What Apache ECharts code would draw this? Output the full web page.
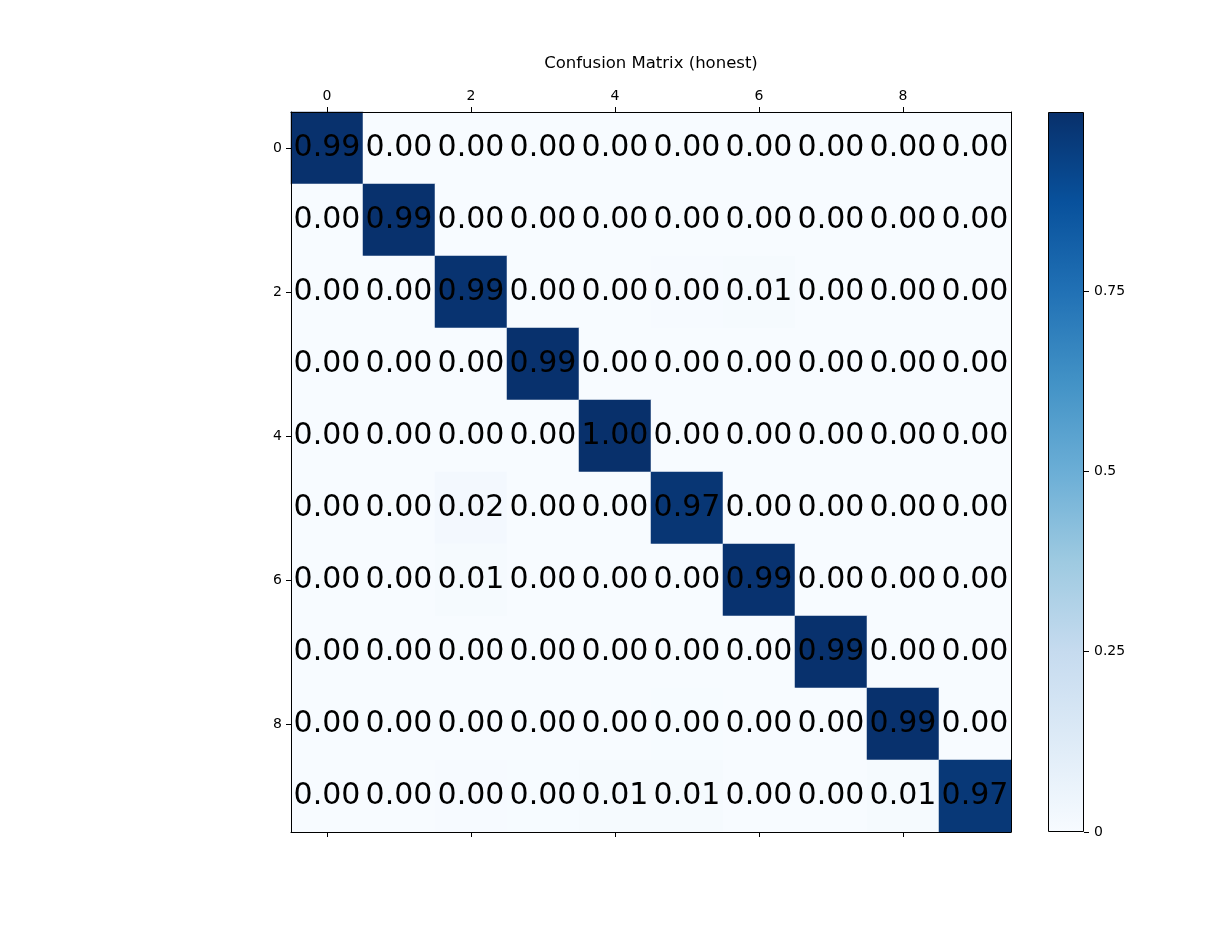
<!DOCTYPE html>
<html>
<head>
<meta charset="utf-8">
<script src="https://cdn.jsdelivr.net/npm/echarts@6/dist/echarts.min.js"></script>
<style>
  html, body { margin: 0; padding: 0; background: #fff; }
  #chart { width: 1213px; height: 935px; }
</style>
</head>
<body>
<div id="chart"></div>
<script>
// class labels (0..9)
const classes = ['0', '1', '2', '3', '4', '5', '6', '7', '8', '9'];

// confusion matrix rows (true class), columns (predicted class)
const row0 = [0.993, 0.000, 0.000, 0.000, 0.000, 0.000, 0.000, 0.000, 0.000, 0.000];
const row1 = [0.000, 0.993, 0.000, 0.000, 0.000, 0.000, 0.000, 0.000, 0.000, 0.000];
const row2 = [0.000, 0.000, 0.986, 0.000, 0.000, 0.004, 0.010, 0.000, 0.000, 0.000];
const row3 = [0.000, 0.000, 0.000, 0.993, 0.000, 0.000, 0.000, 0.000, 0.000, 0.000];
const row4 = [0.000, 0.000, 0.000, 0.000, 0.998, 0.000, 0.000, 0.000, 0.000, 0.000];
const row5 = [0.000, 0.000, 0.020, 0.000, 0.000, 0.974, 0.000, 0.000, 0.000, 0.000];
const row6 = [0.000, 0.000, 0.010, 0.000, 0.000, 0.000, 0.989, 0.000, 0.000, 0.000];
const row7 = [0.000, 0.000, 0.000, 0.000, 0.000, 0.000, 0.000, 0.993, 0.000, 0.000];
const row8 = [0.000, 0.000, 0.000, 0.000, 0.000, 0.003, 0.000, 0.000, 0.993, 0.000];
const row9 = [0.000, 0.000, 0.004, 0.003, 0.010, 0.008, 0.000, 0.000, 0.010, 0.968];
const matrix = [row0, row1, row2, row3, row4, row5, row6, row7, row8, row9];

// colorbar ticks
const cbTicks = [0, 0.25, 0.5, 0.75];

// matplotlib "Blues"
const blues = ['#f7fbff', '#deebf7', '#c6dbef', '#9ecae1', '#6baed6',
               '#4292c6', '#2171b5', '#08519c', '#08306b'];

const vmin = 0;
const vmax = Math.max(...matrix.flat());

const cells = [];
matrix.forEach((row, i) => row.forEach((v, j) => cells.push([j, i, v])));

const font = 'DejaVu Sans';
const tick = { show: true, interval: 1, alignWithLabel: true, inside: false, length: 5, lineStyle: { color: '#000', width: 1 } };
const chart = echarts.init(document.getElementById('chart'));

const option = {
  animation: false,
  backgroundColor: '#fff',
  title: {
    text: 'Confusion Matrix (honest)',
    left: 646,
    top: 50,
    textAlign: 'center',
    textStyle: { fontFamily: font, fontSize: 16.5, fontWeight: 'normal', color: '#000' },
  },
  grid: [
    { left: 291, top: 112, width: 720, height: 720 },
    { left: 1048, top: 112, width: 36, height: 720 },
  ],
  xAxis: [
    {
      type: 'category', gridIndex: 0, position: 'top', data: classes, z: 10,
      axisLine: { show: true, lineStyle: { color: '#000', width: 1 } },
      axisTick: tick,
      axisLabel: { show: true, interval: 1, margin: 9, fontFamily: font, fontSize: 14, color: '#000' },
      splitLine: { show: false },
    },
    {
      type: 'category', gridIndex: 0, position: 'bottom', data: classes, z: 10,
      axisLine: { show: true, lineStyle: { color: '#000', width: 1 } },
      axisTick: tick,
      axisLabel: { show: false },
      splitLine: { show: false },
    },
    {
      type: 'category', gridIndex: 1, data: ['cb'],
      axisLine: { show: false }, axisTick: { show: false }, axisLabel: { show: false },
    },
  ],
  yAxis: [
    {
      type: 'category', gridIndex: 0, position: 'left', inverse: true, data: classes, z: 10,
      axisLine: { show: true, lineStyle: { color: '#000', width: 1 } },
      axisTick: tick,
      axisLabel: { show: true, interval: 1, margin: 9, fontFamily: font, fontSize: 14, color: '#000' },
      splitLine: { show: false },
    },
    {
      type: 'category', gridIndex: 0, position: 'right', inverse: true, data: classes, z: 10,
      axisLine: { show: true, lineStyle: { color: '#000', width: 1 } },
      axisTick: { show: false },
      axisLabel: { show: false },
      splitLine: { show: false },
    },
    {
      type: 'value', gridIndex: 1, position: 'right', min: vmin, max: vmax,
      axisLine: { show: false },
      axisTick: { show: true, customValues: cbTicks, length: 5, lineStyle: { color: '#000' } },
      axisLabel: {
        show: true, customValues: cbTicks, margin: 10, fontFamily: font, fontSize: 14, color: '#000',
        formatter: (v) => String(v),
      },
      splitLine: { show: false },
    },
  ],
  visualMap: {
    show: false,
    type: 'continuous',
    seriesIndex: 0,
    dimension: 2,
    min: vmin,
    max: vmax,
    inRange: { color: blues },
  },
  series: [
    {
      type: 'heatmap',
      xAxisIndex: 0,
      yAxisIndex: 0,
      data: cells,
      label: {
        show: true,
        fontFamily: font,
        fontSize: 30,
        color: '#000',
        formatter: (p) => p.value[2].toFixed(2),
      },
      emphasis: { disabled: true },
    },
    {
      // colorbar
      type: 'bar',
      xAxisIndex: 2,
      yAxisIndex: 2,
      data: [vmax],
      barWidth: '100%',
      silent: true,
      itemStyle: {
        borderColor: '#000',
        borderWidth: 1,
        color: new echarts.graphic.LinearGradient(0, 0, 0, 1,
          blues.slice().reverse().map((c, i) => ({ offset: i / (blues.length - 1), color: c }))),
      },
    },
  ],
};

chart.setOption(option);
</script>
</body>
</html>
